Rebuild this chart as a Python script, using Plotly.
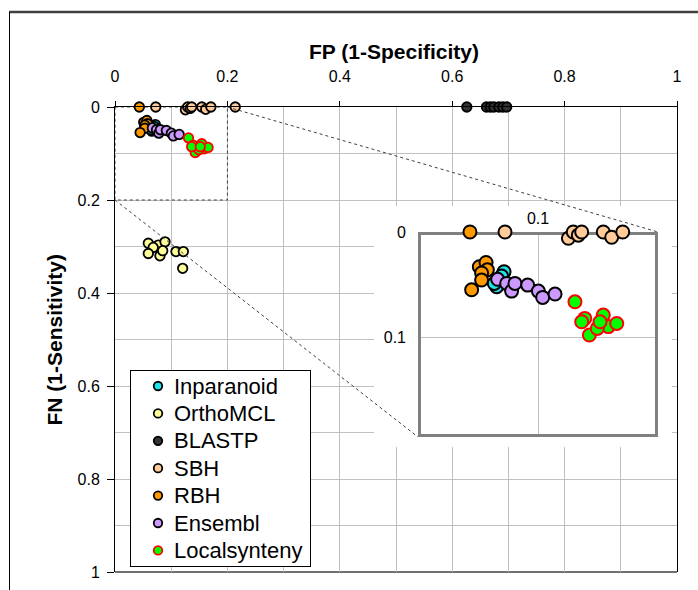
import plotly.graph_objects as go

# ---------------- data (FP = x, FN = y) ----------------
inparanoid_fp = [0.0717, 0.0697, 0.0656, 0.0636]
inparanoid_fn = [0.0378, 0.0419, 0.0520, 0.0489]

orthomcl_fp = [0.0593, 0.077, 0.089, 0.068, 0.0593, 0.080, 0.0849, 0.1085, 0.1216, 0.1204]
orthomcl_fn = [0.293, 0.297, 0.290, 0.302, 0.315, 0.320, 0.309, 0.311, 0.311, 0.347]

blastp_fp = [0.626, 0.661, 0.668, 0.674, 0.683, 0.690, 0.697]
blastp_fn = [0, 0, 0, 0, 0, 0, 0]

sbh_fp = [0.0725, 0.1253, 0.1294, 0.1336, 0.1364, 0.1544, 0.1614, 0.1706, 0.214]
sbh_fn = [0, 0.006, 0, 0.003, 0, 0, 0.005, 0, 0]

rbh_fp = [0.0433, 0.0511, 0.0567, 0.0578, 0.053, 0.053, 0.0447]
rbh_fn = [0, 0.033, 0.029, 0.036, 0.039, 0.0457, 0.055]

ensembl_fp = [0.0664, 0.0739, 0.078, 0.0808, 0.0914, 0.1003, 0.1039, 0.1142]
ensembl_fn = [0.045, 0.0489, 0.0562, 0.0489, 0.0505, 0.0562, 0.0622, 0.059]

local_fp = [0.1308, 0.139, 0.1544, 0.1586, 0.1656, 0.1428, 0.1494, 0.1364, 0.1517]
local_fn = [0.0664, 0.0822, 0.079, 0.090, 0.087, 0.098, 0.0917, 0.0854, 0.0854]

series_names = ["Inparanoid", "OrthoMCL", "BLASTP", "SBH", "RBH", "Ensembl", "Localsynteny"]
series_fp = [inparanoid_fp, orthomcl_fp, blastp_fp, sbh_fp, rbh_fp, ensembl_fp, local_fp]
series_fn = [inparanoid_fn, orthomcl_fn, blastp_fn, sbh_fn, rbh_fn, ensembl_fn, local_fn]
fill_colors = ["#22E2EC", "#FFFF99", "#333333", "#FFCC99", "#FF9900", "#CC99FF", "#00FF00"]
edge_colors = ["#000000"] * 6 + ["#FF0000"]

x_ticks = [0, 0.2, 0.4, 0.6, 0.8, 1]
y_ticks = [0, 0.2, 0.4, 0.6, 0.8, 1]

# ---------------- layout geometry (pixels) ----------------
W, H = 698, 590
L, R, T, B = 115, 677, 107, 572          # main plot area
PW, PH = R - L, B - T


def px(xp):
    return (xp - L) / PW


def py(yp):
    return (B - yp) / PH


inset_box = (418, 658, 232, 437)          # left, right, top, bottom
cover_box = (374, 672, 206, 447)
legend_box = (131, 310, 371, 566)
legend_row0, legend_row_step = 386, 27.4
legend_marker_x, legend_text_x = 158, 172
inset_xr = [0, 0.2]
inset_yr = [0.195, 0]

FONT = "Liberation Sans, Arial"
fig = go.Figure()

# main traces
for name, xs, ys, fill, edge in zip(series_names, series_fp, series_fn, fill_colors, edge_colors):
    fig.add_trace(go.Scatter(
        x=xs, y=ys, mode="markers", name=name, showlegend=False,
        cliponaxis=False,
        marker=dict(size=9.5, color=fill, line=dict(color=edge, width=1.8)),
        xaxis="x", yaxis="y"))

# cover subplot (white background to hide main gridlines behind inset)
fig.add_trace(go.Scatter(x=[None], y=[None], showlegend=False, hoverinfo="skip",
                         xaxis="x2", yaxis="y2"))

# inset traces
for name, xs, ys, fill, edge in zip(series_names, series_fp, series_fn, fill_colors, edge_colors):
    pts = [(a, b) for a, b in zip(xs, ys) if a <= inset_xr[1] and b <= inset_yr[0]]
    if not pts:
        continue
    fig.add_trace(go.Scatter(
        x=[p[0] for p in pts], y=[p[1] for p in pts], mode="markers",
        showlegend=False, cliponaxis=False,
        marker=dict(size=13, color=fill, line=dict(color=edge, width=2)),
        xaxis="x3", yaxis="y3"))

# legend (own subplot so its white box covers the gridlines)
n = len(series_names)
row_y = [legend_row0 + i * legend_row_step for i in range(n)]
lx0, lx1, ly0, ly1 = legend_box
fig.add_trace(go.Scatter(
    x=[legend_marker_x] * n, y=row_y, mode="markers", showlegend=False, hoverinfo="skip",
    cliponaxis=False,
    marker=dict(size=8.5, color=fill_colors, line=dict(color=edge_colors, width=1.8)),
    xaxis="x4", yaxis="y4"))
for name, yv in zip(series_names, row_y):
    fig.add_annotation(text=name, xref="x4", yref="y4", x=legend_text_x, y=yv,
                       xanchor="left", yanchor="middle", showarrow=False,
                       font=dict(family=FONT, size=22, color="#000000"))

grid_col = "#C0C0C0"
tick_font = dict(family=FONT, size=16, color="#000000")
hidden = dict(visible=False, showgrid=False, zeroline=False, fixedrange=True, automargin=False)

fig.update_layout(
    width=W, height=H,
    margin=dict(l=L, r=W - R, t=T, b=H - B, pad=0, autoexpand=False),
    paper_bgcolor="white", plot_bgcolor="white",
    font=dict(family=FONT, color="#000000"),
    showlegend=False,
    xaxis=dict(domain=[0, 1], range=[0, 1], side="top", tickvals=x_ticks,
               ticktext=[f"{v:g}" for v in x_ticks],
               ticks="outside", ticklen=5, tickcolor="#000000",
               ticklabelstandoff=13,
               showline=True, linecolor="#000000", linewidth=1,
               showgrid=True, gridcolor=grid_col, gridwidth=1,
               minor=dict(dtick=0.1, tick0=0, showgrid=True, gridcolor=grid_col, ticks=""),
               zeroline=False, tickfont=tick_font, anchor="y", fixedrange=True,
               automargin=False),
    yaxis=dict(domain=[0, 1], range=[1, 0], tickvals=y_ticks,
               ticktext=[f"{v:g}" for v in y_ticks],
               ticks="outside", ticklen=7, tickcolor="#000000",
               ticklabelstandoff=4,
               showline=True, linecolor="#000000", linewidth=1, mirror=True,
               showgrid=True, gridcolor=grid_col, gridwidth=1,
               minor=dict(dtick=0.1, tick0=0, showgrid=True, gridcolor=grid_col, ticks=""),
               zeroline=False, tickfont=tick_font, anchor="x", fixedrange=True,
               automargin=False),
    xaxis2=dict(domain=[px(cover_box[0]), px(cover_box[1])], range=[0, 1], anchor="y2", **hidden),
    yaxis2=dict(domain=[py(cover_box[3]), py(cover_box[2])], range=[0, 1], anchor="x2", **hidden),
    xaxis3=dict(domain=[px(inset_box[0]), px(inset_box[1])], range=inset_xr,
                side="top", tickvals=[0.1], ticktext=["0.1"], ticks="",
                ticklabelstandoff=4,
                showline=False, showgrid=True, gridcolor=grid_col, zeroline=False,
                tickfont=tick_font, anchor="y3", fixedrange=True, automargin=False),
    yaxis3=dict(domain=[py(inset_box[3]), py(inset_box[2])], range=inset_yr,
                tickvals=[0, 0.1], ticktext=["0", "0.1"], ticks="",
                ticklabelstandoff=11,
                showline=False, showgrid=True, gridcolor=grid_col, zeroline=False,
                tickfont=tick_font, anchor="x3", fixedrange=True, automargin=False),
    xaxis4=dict(domain=[px(lx0), px(lx1)], range=[lx0, lx1], anchor="y4",
                visible=True, showticklabels=False, ticks="", showgrid=False, zeroline=False,
                showline=True, linecolor="#000000", linewidth=1, mirror=True,
                fixedrange=True, automargin=False),
    yaxis4=dict(domain=[py(ly1), py(ly0)], range=[ly1, ly0], anchor="x4",
                visible=True, showticklabels=False, ticks="", showgrid=False, zeroline=False,
                showline=True, linecolor="#000000", linewidth=1, mirror=True,
                fixedrange=True, automargin=False),
)

# bottom border of main plot
fig.add_shape(type="line", xref="paper", yref="paper", x0=0, x1=1, y0=0, y1=0,
              line=dict(color="#707070", width=2), layer="below")

# outer chart frame
fig.add_shape(type="line", xref="paper", yref="paper", x0=px(9), x1=px(W + 2),
              y0=py(12), y1=py(12), line=dict(color="#404040", width=2.5), layer="above")
fig.add_shape(type="line", xref="paper", yref="paper", x0=px(9.5), x1=px(9.5),
              y0=py(12), y1=py(H + 2), line=dict(color="#000000", width=1), layer="above")

# dashed zoom rectangle on main axes
fig.add_shape(type="rect", xref="x", yref="y", x0=0, x1=inset_xr[1], y0=0, y1=0.2,
              line=dict(color="#404040", width=1, dash="dot"), layer="between")

# connector lines (main zoom box corners -> inset corners)
fig.add_shape(type="line", xref="paper", yref="paper",
              x0=px(L + 0.2 * PW), y0=1, x1=px(inset_box[1]), y1=py(inset_box[2]),
              line=dict(color="#404040", width=1, dash="dot"), layer="above")
fig.add_shape(type="line", xref="paper", yref="paper",
              x0=0, y0=py(T + 0.2 * PH), x1=px(inset_box[0]), y1=py(inset_box[3]),
              line=dict(color="#404040", width=1, dash="dot"), layer="above")

# inset border
fig.add_shape(type="rect", xref="x3", yref="y3", x0=inset_xr[0], x1=inset_xr[1],
              y0=0, y1=inset_yr[0], line=dict(color="#808080", width=6), layer="between")

# axis titles
fig.add_annotation(text="<b>FP (1-Specificity)</b>", xref="paper", yref="paper",
                   x=px(394), y=py(38), showarrow=False,
                   font=dict(family=FONT, size=21, color="#000000"))
fig.add_annotation(text="<b>FN (1-Sensitivity)</b>", xref="paper", yref="paper",
                   x=px(40), y=py(340), showarrow=False, textangle=-90,
                   font=dict(family=FONT, size=21, color="#000000"))

fig.write_html("out.html")
